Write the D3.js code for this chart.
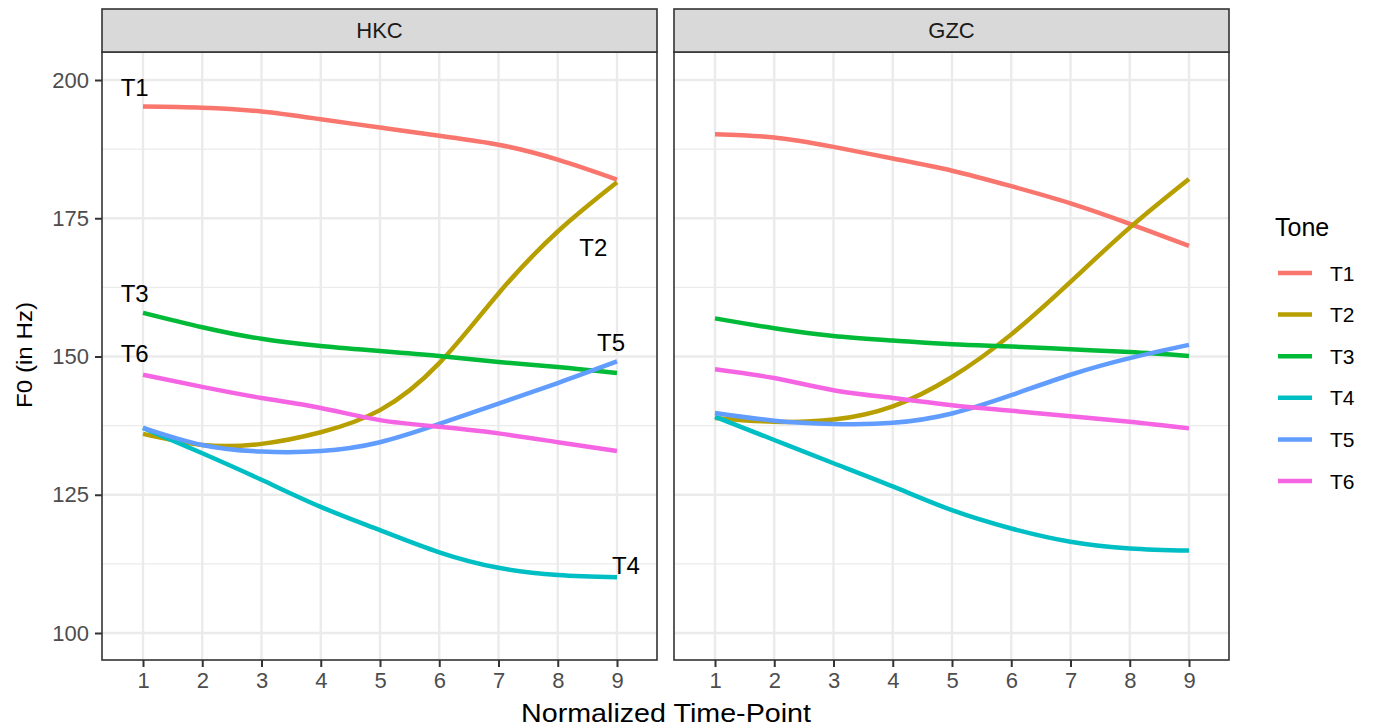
<!DOCTYPE html>
<html>
<head>
<meta charset="utf-8">
<script src="https://cdn.jsdelivr.net/npm/d3@7"></script>
<style>
  body { margin: 0; background: #fff; }
  svg { font-family: "Liberation Sans", Arial, sans-serif; }
</style>
</head>
<body>
<svg id="chart" width="1374" height="728"></svg>
<script>
// data
const timePoints = [1, 2, 3, 4, 5, 6, 7, 8, 9];
const tones = ["T1", "T2", "T3", "T4", "T5", "T6"];
const panels = ["HKC", "GZC"];

const hkcT1 = [195.2, 195.0, 194.3, 192.9, 191.4, 189.9, 188.3, 185.6, 182.0];
const hkcT2 = [136.0, 134.0, 134.2, 136.3, 140.3, 148.8, 161.4, 172.6, 181.5];
const hkcT3 = [157.9, 155.3, 153.2, 151.9, 151.0, 150.1, 149.0, 148.1, 147.0];
const hkcT4 = [137.1, 132.5, 127.7, 122.8, 118.6, 114.6, 111.8, 110.5, 110.1];
const hkcT5 = [137.1, 134.0, 132.8, 132.9, 134.5, 137.8, 141.5, 145.2, 149.1];
const hkcT6 = [146.7, 144.5, 142.5, 140.7, 138.5, 137.3, 136.1, 134.5, 132.9];

const gzcT1 = [190.2, 189.6, 187.9, 185.8, 183.6, 180.8, 177.7, 174.0, 170.0];
const gzcT2 = [138.9, 138.2, 138.6, 141.0, 146.3, 154.0, 163.5, 173.3, 182.1];
const gzcT3 = [156.9, 155.1, 153.7, 152.9, 152.2, 151.8, 151.3, 150.8, 150.1];
const gzcT4 = [139.1, 134.9, 130.7, 126.5, 122.2, 118.9, 116.5, 115.3, 114.9];
const gzcT5 = [139.8, 138.4, 137.8, 138.0, 139.7, 143.0, 146.7, 149.7, 152.1];
const gzcT6 = [147.7, 146.1, 143.9, 142.5, 141.2, 140.2, 139.2, 138.2, 137.0];

const yTicks = [100, 125, 150, 175, 200];
const yMinor = [112.5, 137.5, 162.5, 187.5];

// labels placed on the HKC panel
const labelTone = ["T1", "T3", "T6", "T5", "T2", "T4"];
const labelX = [0.86, 0.86, 0.86, 8.9, 8.6, 9.15];
const labelY = [198.6, 161.5, 150.5, 152.6, 169.8, 112.3];

const colors = ["#F8766D", "#B79F00", "#00BA38", "#00BFC4", "#619CFF", "#F564E3"];

const series = {
  HKC: [hkcT1, hkcT2, hkcT3, hkcT4, hkcT5, hkcT6],
  GZC: [gzcT1, gzcT2, gzcT3, gzcT4, gzcT5, gzcT6]
};

const svg = d3.select("#chart");
const color = d3.scaleOrdinal().domain(tones).range(colors);

const panelW = 555, gap = 17, left0 = 102;
const stripTop = 9, stripH = 43, panelTop = 52, panelBottom = 660;

const y = d3.scaleLinear().domain([100, 200]).range([633, 80]);

panels.forEach((name, p) => {
  const x0 = left0 + p * (panelW + gap);
  const x = d3.scaleLinear().domain([1, 9]).range([x0 + 41, x0 + 515]);
  const g = svg.append("g");

  // grid
  g.selectAll(".ymin").data(yMinor).enter().append("line")
    .attr("x1", x0).attr("x2", x0 + panelW)
    .attr("y1", d => y(d)).attr("y2", d => y(d))
    .attr("stroke", "#EBEBEB").attr("stroke-width", 1.2);
  g.selectAll(".ymaj").data(yTicks).enter().append("line")
    .attr("x1", x0).attr("x2", x0 + panelW)
    .attr("y1", d => y(d)).attr("y2", d => y(d))
    .attr("stroke", "#EBEBEB").attr("stroke-width", 2.4);
  g.selectAll(".xmaj").data(timePoints).enter().append("line")
    .attr("x1", d => x(d)).attr("x2", d => x(d))
    .attr("y1", panelTop).attr("y2", panelBottom)
    .attr("stroke", "#EBEBEB").attr("stroke-width", 2.4);

  // lines
  const line = d3.line()
    .x((d, i) => x(timePoints[i]))
    .y(d => y(d))
    .curve(d3.curveNatural);

  series[name].forEach((vals, k) => {
    g.append("path")
      .datum(vals)
      .attr("d", line)
      .attr("fill", "none")
      .attr("stroke", color(tones[k]))
      .attr("stroke-width", 4.5);
  });

  if (p === 0) {
    g.selectAll(".lab").data(labelTone).enter().append("text")
      .attr("x", (d, i) => x(labelX[i]))
      .attr("y", (d, i) => y(labelY[i]))
      .attr("dy", "0.36em")
      .attr("text-anchor", "middle")
      .attr("font-size", 24)
      .attr("fill", "#000")
      .text(d => d);
  }

  // border
  g.append("rect").attr("x", x0).attr("y", panelTop)
    .attr("width", panelW).attr("height", panelBottom - panelTop)
    .attr("fill", "none").attr("stroke", "#333333").attr("stroke-width", 1.6);

  // strip
  g.append("rect").attr("x", x0).attr("y", stripTop)
    .attr("width", panelW).attr("height", stripH)
    .attr("fill", "#D9D9D9").attr("stroke", "#333333").attr("stroke-width", 1.6);
  g.append("text")
    .attr("x", x0 + panelW / 2).attr("y", stripTop + stripH / 2)
    .attr("dy", "0.36em").attr("text-anchor", "middle")
    .attr("font-size", 22).attr("fill", "#1A1A1A")
    .text(name);

  // x axis
  const xAxis = d3.axisBottom(x).tickValues(timePoints).tickSize(7).tickPadding(5)
    .tickFormat(d3.format("d"));
  const ax = g.append("g").attr("transform", `translate(0,${panelBottom})`).call(xAxis);
  ax.select(".domain").remove();
  ax.selectAll(".tick line").attr("stroke", "#333333").attr("stroke-width", 2);
  ax.selectAll(".tick text").attr("font-size", 22).attr("fill", "#4D4D4D")
    .attr("font-family", "Liberation Sans, Arial, sans-serif");

  if (p === 0) {
    const yAxis = d3.axisLeft(y).tickValues(yTicks).tickSize(7).tickPadding(6);
    const ay = g.append("g").attr("transform", `translate(${x0},0)`).call(yAxis);
    ay.select(".domain").remove();
    ay.selectAll(".tick line").attr("stroke", "#333333").attr("stroke-width", 2);
    ay.selectAll(".tick text").attr("font-size", 22).attr("fill", "#4D4D4D")
      .attr("font-family", "Liberation Sans, Arial, sans-serif");
  }
});

// axis titles
svg.append("text")
  .attr("x", 666).attr("y", 722)
  .attr("text-anchor", "middle").attr("font-size", 26).attr("fill", "#000")
  .attr("textLength", 290).attr("lengthAdjust", "spacingAndGlyphs")
  .text("Normalized Time-Point");

svg.append("text")
  .attr("transform", "translate(32,355) rotate(-90)")
  .attr("text-anchor", "middle").attr("font-size", 22).attr("fill", "#000")
  .attr("textLength", 106).attr("lengthAdjust", "spacingAndGlyphs")
  .text("F0 (in Hz)");

// legend
const legend = svg.append("g").attr("transform", "translate(1275,0)");
legend.append("text").attr("x", 0).attr("y", 236)
  .attr("font-size", 25).attr("fill", "#000").text("Tone");

tones.forEach((t, i) => {
  const row = legend.append("g").attr("transform", `translate(0,${273 + i * 41.6})`);
  row.append("line").attr("x1", 3).attr("x2", 37).attr("y1", 0).attr("y2", 0)
    .attr("stroke", color(t)).attr("stroke-width", 4.5);
  row.append("text").attr("x", 55).attr("y", 0).attr("dy", "0.36em")
    .attr("font-size", 21).attr("fill", "#000").text(t);
});
</script>
</body>
</html>
